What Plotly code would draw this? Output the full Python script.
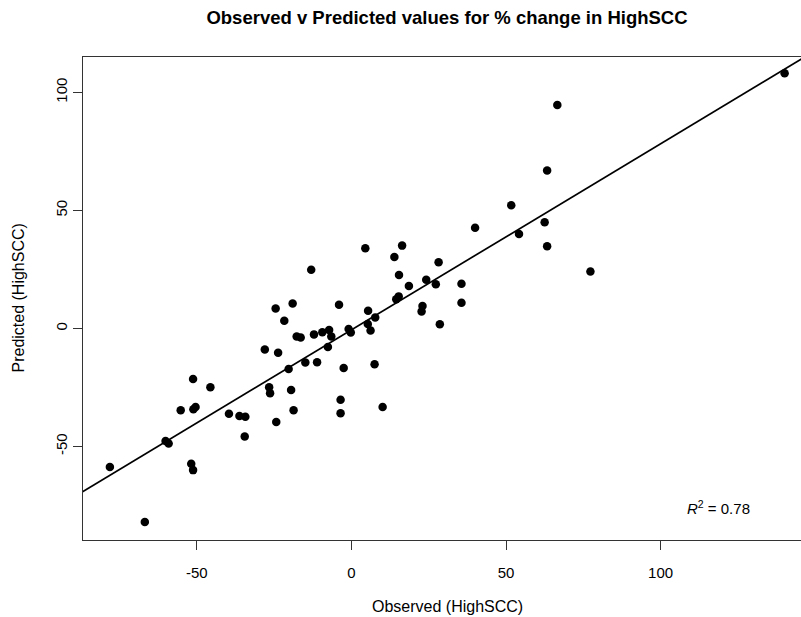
import numpy as np
import plotly.graph_objects as go

# Observed vs predicted % change in HighSCC
observed = [
    -78.1, -66.8, -60.1, -59.1, -55.2, -51.2, -51.1, -50.4, -45.6, -39.6,
    -36.2, -34.3, -34.5, -51.8, -51.2, -28.0, -23.7, -24.5, -19.0, -21.7,
    -26.6, -26.3, -19.5, -18.7, -24.3, -20.3, -14.9, -11.1, -17.7, -16.4,
    -12.1, -9.4, -7.2, -6.5, -7.6, -4.0, -3.5, -3.5, -2.5, -0.9,
    -0.2, -13.0, 4.5, 5.4, 7.7, 5.3, 6.2, 7.5, 10.1, 13.9,
    16.4, 15.4, 18.6, 14.5, 15.3, 23.0, 22.7, 24.2, 27.3, 28.2,
    28.6, 35.6, 35.6, 40.0, 51.7, 54.2, 62.5, 63.3, 63.3, 66.6,
    77.3, 140.1,
]
predicted = [
    -58.7, -82.0, -47.7, -48.7, -34.6, -21.4, -34.2, -33.3, -24.9, -36.1,
    -37.1, -37.4, -45.8, -57.3, -60.0, -8.9, -10.3, 8.5, 10.6, 3.3,
    -24.9, -27.4, -26.1, -34.6, -39.6, -17.2, -14.4, -14.3, -3.4, -3.8,
    -2.5, -1.6, -0.6, -3.4, -7.8, 10.1, -30.2, -35.9, -16.7, -0.2,
    -1.7, 24.9, 34.0, 7.5, 4.7, 1.9, -0.9, -15.2, -33.3, 30.3,
    35.1, 22.7, 18.0, 12.4, 13.6, 9.5, 7.2, 20.6, 18.7, 28.1,
    1.8, 18.9, 10.9, 42.7, 52.2, 40.0, 45.0, 66.9, 34.8, 94.7,
    24.1, 108.1,
]
x_ticks = [-50, 0, 50, 100]
x_tick_labels = ["-50", "0", "50", "100"]
y_ticks = [-50, 0, 50, 100]
y_tick_labels = ["-50", "0", "50", "100"]
r2_label = "<i>R</i><sup>2</sup> = 0.78"

title_text = "<b>Observed v Predicted values for % change in HighSCC</b>"
x_title = "Observed (HighSCC)"
y_title = "Predicted (HighSCC)"

x_range = [-86.8, 145.4]
y_range = [-89.6, 115.0]

slope, intercept = np.polyfit(observed, predicted, 1)
line_x = np.array([x_range[0] - 5, x_range[1] + 5])
line_y = slope * line_x + intercept

font_family = "Liberation Sans, Arial, Helvetica, sans-serif"

W, H = 801, 617
fig = go.Figure()
fig.add_trace(go.Scatter(
    x=line_x, y=line_y, mode="lines",
    line=dict(color="black", width=1.7),
    hoverinfo="skip", showlegend=False,
))
fig.add_trace(go.Scatter(
    x=observed, y=predicted, mode="markers",
    marker=dict(color="black", size=8.5, line=dict(width=0)),
    showlegend=False,
))

axis_common = dict(
    showgrid=False, zeroline=False, showline=True,
    linecolor="#333333", linewidth=1,
    ticks="outside", ticklen=9, tickwidth=1, tickcolor="#333333",
    tickfont=dict(family=font_family, size=15, color="black"),
)
fig.update_xaxes(range=x_range, tickvals=x_ticks, ticktext=x_tick_labels,
                 mirror=True, ticklabelstandoff=10, **axis_common)
fig.update_yaxes(range=y_range, tickvals=y_ticks, ticktext=y_tick_labels,
                 mirror=False, tickangle=-90, ticklabelstandoff=0,
                 **axis_common)

fig.update_layout(
    width=W, height=H,
    margin=dict(l=83, r=0, t=57, b=77),
    paper_bgcolor="white", plot_bgcolor="white",
    font=dict(family=font_family, color="black"),
    title=dict(text=title_text, x=447 / W, xanchor="center",
               y=1 - 18 / H, yanchor="middle",
               font=dict(family=font_family, size=18.5, color="black")),
    annotations=[
        dict(text=x_title, xref="paper", yref="paper",
             x=(447 - 83) / 718, y=0, yshift=-66,
             xanchor="center", yanchor="middle", showarrow=False,
             font=dict(family=font_family, size=16, color="black")),
        dict(text=y_title, xref="paper", yref="paper",
             x=0, xshift=-65, y=0.5, textangle=-90,
             xanchor="center", yanchor="middle", showarrow=False,
             font=dict(family=font_family, size=16, color="black")),
        dict(text=r2_label, xref="x", yref="y",
             x=118.6, y=-76, xanchor="center", yanchor="middle",
             showarrow=False,
             font=dict(family=font_family, size=15, color="black")),
    ],
)

fig.write_html(
    "out.html",
    config={"displayModeBar": False},
    post_script="document.body.style.margin='0';document.body.style.overflow='hidden';",
)
